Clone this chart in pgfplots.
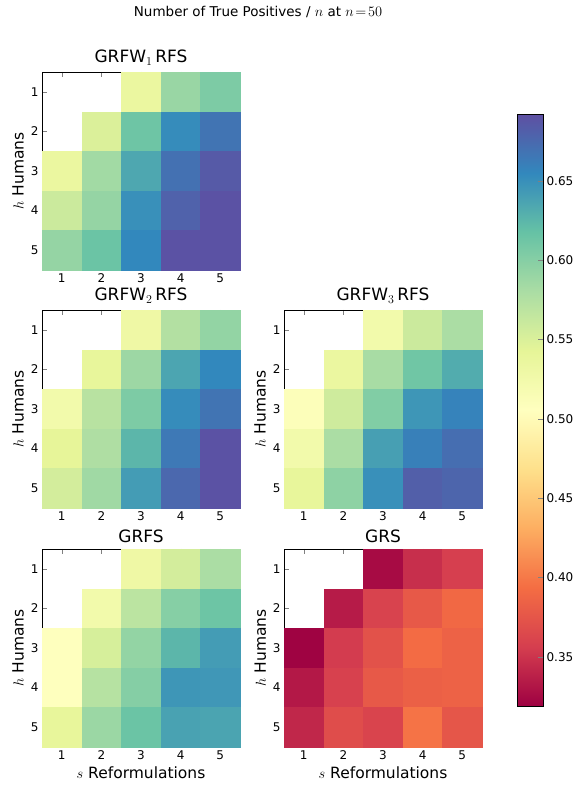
\documentclass[border=0pt]{standalone}
\usepackage{fontspec}
\setmainfont{DejaVu Sans}
\usepackage{pgfplots}
\usepackage{pgfplotstable}
\pgfplotsset{compat=1.18}

\pgfplotsset{
  colormap={spectral}{rgb255=(158,1,66) rgb255=(213,62,79) rgb255=(244,109,67)
    rgb255=(253,174,97) rgb255=(254,224,139) rgb255=(255,255,191) rgb255=(230,245,152)
    rgb255=(171,221,164) rgb255=(102,194,165) rgb255=(50,136,189) rgb255=(94,79,162)},
  heat/.style={
    scale only axis, width=198pt, height=198pt,
    xmin=0.5, xmax=5.5, ymin=0.5, ymax=5.5, y dir=reverse,
    xtick={1,...,5}, ytick={1,...,5},
    tick align=inside, major tick length=5pt,
    point meta min=0.319, point meta max=0.692,
    axis on top,
    tick label style={font=\fontsize{12}{14}\selectfont},
    label style={font=\fontsize{15.5}{18}\selectfont},
    title style={font=\fontsize{17}{20}\selectfont, yshift=-3pt},
    ylabel={$h$ Humans},
    /pgf/number format/assume math mode=true,
  },
  cells/.style={scatter, only marks, mark=square*, mark size=19.6pt,
    scatter/use mapped color={draw=mapped color, fill=mapped color}},
}

% x = s reformulations, y = h humans, c = true positives / n
\pgfplotstableread{
x y c
3 1 0.535
4 1 0.590
5 1 0.605
2 2 0.550
3 2 0.613
4 2 0.652
5 2 0.668
1 3 0.535
2 3 0.585
3 3 0.635
4 3 0.670
5 3 0.685
1 4 0.560
2 4 0.592
3 4 0.650
4 4 0.680
5 4 0.690
1 5 0.592
2 5 0.615
3 5 0.655
4 5 0.690
5 5 0.690
}\tA

\pgfplotstableread{
x y c
3 1 0.530
4 1 0.575
5 1 0.593
2 2 0.540
3 2 0.588
4 2 0.636
5 2 0.655
1 3 0.525
2 3 0.572
3 3 0.605
4 3 0.652
5 3 0.668
1 4 0.542
2 4 0.578
3 4 0.625
4 4 0.665
5 4 0.690
1 5 0.555
2 5 0.586
3 5 0.642
4 5 0.676
5 5 0.690
}\tB

\pgfplotstableread{
x y c
3 1 0.525
4 1 0.560
5 1 0.580
2 2 0.535
3 2 0.582
4 2 0.612
5 2 0.632
1 3 0.510
2 3 0.558
3 3 0.603
4 3 0.646
5 3 0.658
1 4 0.525
2 4 0.580
3 4 0.640
4 4 0.660
5 4 0.672
1 5 0.540
2 5 0.596
3 5 0.650
4 5 0.682
5 5 0.678
}\tC

\pgfplotstableread{
x y c
3 1 0.530
4 1 0.555
5 1 0.580
2 2 0.525
3 2 0.570
4 2 0.600
5 2 0.614
1 3 0.507
2 3 0.553
3 3 0.593
4 3 0.625
5 3 0.642
1 4 0.507
2 4 0.573
3 4 0.601
4 4 0.646
5 4 0.645
1 5 0.540
2 5 0.589
3 5 0.615
4 5 0.638
5 5 0.637
}\tD

\pgfplotstableread{
x y c
3 1 0.325
4 1 0.347
5 1 0.357
2 2 0.335
3 2 0.360
4 2 0.378
5 2 0.390
1 3 0.320
2 3 0.355
3 3 0.372
4 3 0.392
5 3 0.385
1 4 0.333
2 4 0.359
3 4 0.378
4 4 0.383
5 4 0.385
1 5 0.342
2 5 0.368
3 5 0.361
4 5 0.397
5 5 0.375
}\tE

\begin{document}
\begin{tikzpicture}
\useasboundingbox (0,0) rectangle (579pt,789pt);

\node[font=\fontsize{13.5}{16}\selectfont] at (258pt,777pt)
  {Number of True Positives / $n$ at $n\!=\!50$};

\begin{axis}[heat, at={(42pt,717pt)}, anchor=north west, title={GRFW$_1$\,RFS}]
  \addplot[cells, point meta=\thisrow{c}] table[x=x, y=y] {\tA};
\end{axis}

\begin{axis}[heat, at={(42pt,479pt)}, anchor=north west, title={GRFW$_2$\,RFS}]
  \addplot[cells, point meta=\thisrow{c}] table[x=x, y=y] {\tB};
\end{axis}

\begin{axis}[heat, at={(284pt,479pt)}, anchor=north west, title={GRFW$_3$\,RFS},
  colorbar, colorbar/width=26pt,
  colorbar style={
    at={(parent axis.north east)}, anchor=north west,
    xshift=26.5pt, yshift=196pt,
    scale only axis, width=26pt, height=592pt,
    ytick={0.35,0.40,0.45,0.50,0.55,0.60,0.65},
    ytick pos=right, yticklabel pos=right,
    tick align=inside, major tick length=5pt,
    yticklabel style={font=\fontsize{12}{14}\selectfont,
      /pgf/number format/.cd, fixed, fixed zerofill, precision=2,
      assume math mode=true},
  }]
  \addplot[cells, point meta=\thisrow{c}] table[x=x, y=y] {\tC};
\end{axis}

\begin{axis}[heat, at={(42pt,240pt)}, anchor=north west, title={GRFS},
  xlabel={$s$ Reformulations}]
  \addplot[cells, point meta=\thisrow{c}] table[x=x, y=y] {\tD};
\end{axis}

\begin{axis}[heat, at={(284pt,240pt)}, anchor=north west, title={GRS},
  xlabel={$s$ Reformulations}]
  \addplot[cells, point meta=\thisrow{c}] table[x=x, y=y] {\tE};
\end{axis}
\end{tikzpicture}
\end{document}
